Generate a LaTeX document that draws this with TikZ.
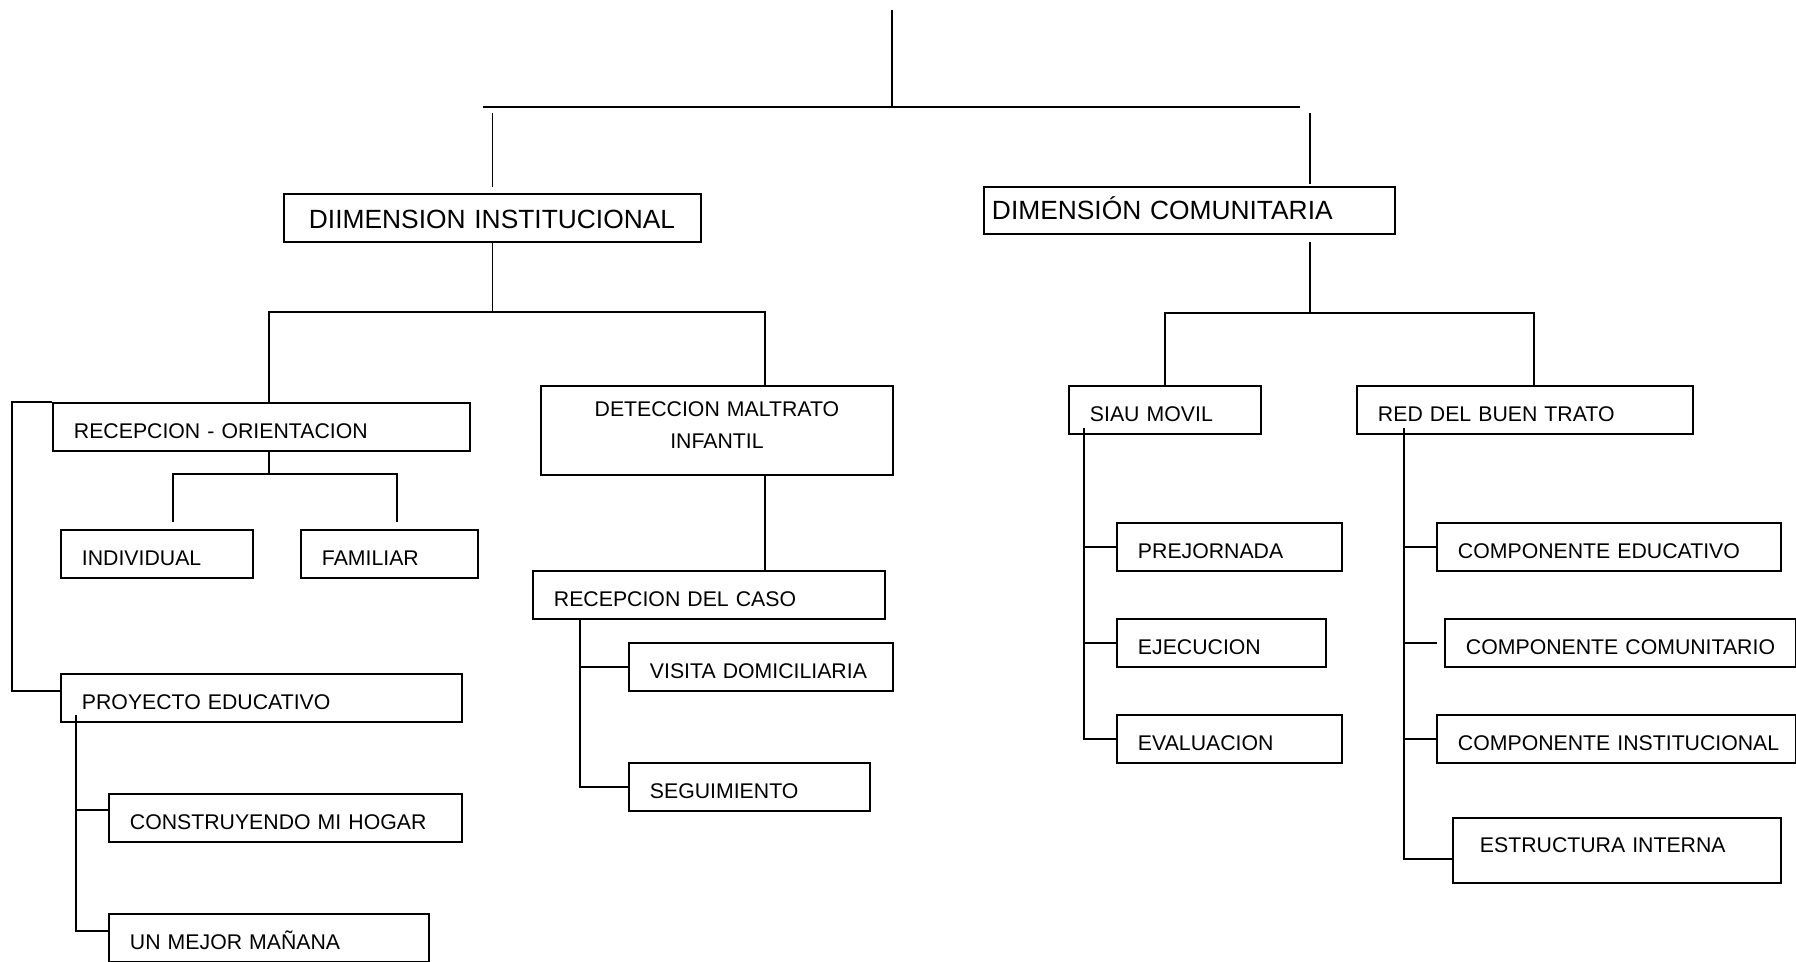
\documentclass[tikz,border=0pt]{standalone}
\usepackage{fontspec}
\setmainfont{Liberation Sans}
\usepackage{tikz}

\begin{document}
\begin{tikzpicture}[
        x=0.02cm, y=-0.02cm,
        boxbase/.style={rectangle, draw, line width=1.1pt, anchor=north west, inner xsep=0.42cm, inner ysep=0pt, minimum height=0.96cm, align=left, font=\fontsize{12.1}{18.1}\selectfont},
        box/.style={boxbase, text height=12.8pt, text depth=0pt},
        dimbox/.style={boxbase, text height=12pt, text depth=0pt, font=\fontsize{15}{18}\selectfont},
        link/.style={line width=1.1pt},
        thinlink/.style={line width=0.8pt},
        gap/.style={thinlink, shorten <=3.6pt, shorten >=3.6pt}
    ]
    \useasboundingbox (0,0) rectangle (1796,961);

    \node[dimbox, inner xsep=0.5cm, text width=7.34cm] (di) at (283,193) {DIIMENSION INSTITUCIONAL};
    \node[dimbox, inner xsep=0.16cm, text width=7.9cm, minimum height=0.94cm, text height=10.3pt] (dc) at (983,186) {DIMENSIÓN COMUNITARIA};

    \node[box, text width=7.5cm] (recor) at (52,402) {RECEPCION - ORIENTACION};
    \node[box, text width=3cm] (ind) at (60,529) {INDIVIDUAL};
    \node[box, text width=2.7cm] (fam) at (300,529) {FAMILIAR};
    \node[box, text width=7.18cm] (proy) at (60,673) {PROYECTO EDUCATIVO};
    \node[box, text width=6.22cm] (cons) at (108,793) {CONSTRUYENDO MI HOGAR};
    \node[box, text width=5.56cm] (mejor) at (108,913) {UN MEJOR MAÑANA};

    \node[boxbase, text width=6.2cm, minimum height=1.78cm, align=center] (det) at (540,385) {DETECCION MALTRATO\\INFANTIL\\[-11.7pt]\mbox{}};
    \node[box, text width=6.2cm] (caso) at (532,570) {RECEPCION DEL CASO};
    \node[box, text width=4.44cm] (visita) at (628,642) {VISITA DOMICILIARIA};
    \node[box, text width=3.98cm] (seg) at (628,762) {SEGUIMIENTO};

    \node[box, text width=3cm] (siau) at (1068,385) {SIAU MOVIL};
    \node[box, text width=5.88cm] (red) at (1356,385) {RED DEL BUEN TRATO};
    \node[box, text width=3.66cm] (prej) at (1116,522) {PREJORNADA};
    \node[box, text width=3.34cm] (ejec) at (1116,618) {EJECUCION};
    \node[box, text width=3.66cm] (eval) at (1116,714) {EVALUACION};
    \node[box, text width=6.04cm] (edu) at (1436,522) {COMPONENTE EDUCATIVO};
    \node[box, text width=6.18cm] (com) at (1444,618) {\mbox{COMPONENTE COMUNITARIO}};
    \node[box, text width=6.34cm] (inst) at (1436,714) {\mbox{COMPONENTE INSTITUCIONAL}};
    \node[box, inner xsep=0.54cm, text width=5.48cm, minimum height=1.3cm, text height=2.1pt] (est) at (1452,817) {ESTRUCTURA INTERNA};

    \coordinate (root) at (892,10);
    \coordinate (barL) at (483,107);
    \coordinate (barR) at (1300,107);
    \coordinate (busL) at (0,312);
    \coordinate (busR) at (0,313);
    \coordinate (subbus) at (0,474);
    \coordinate (outer) at (12,0);
    \coordinate (dcup) at ([xshift=-1.72cm]dc.north east);
    \coordinate (dcdown) at ([xshift=-1.72cm]dc.south east);
    \coordinate (recup) at ([xshift=0.15cm]recor.north);
    \coordinate (detup) at ([xshift=0.96cm]det.north);
    \coordinate (redup) at ([xshift=0.18cm]red.north);
    \coordinate (indup) at ([xshift=0.32cm]ind.north);
    \coordinate (famup) at ([xshift=0.15cm]fam.north);
    \coordinate (proybr) at ([xshift=0.32cm,yshift=0.16cm]proy.south west);
    \coordinate (casobr) at ([xshift=0.96cm]caso.south west);
    \coordinate (siaubr) at ([xshift=0.32cm,yshift=0.14cm]siau.south west);
    \coordinate (redbr) at ([xshift=0.96cm,yshift=0.14cm]red.south west);

    \draw[thinlink] (root) -- (root |- barL);
    \draw[line width=1.4pt] (barL) -- (barR);
    \draw[gap] (di.north |- barL) -- (di.north);
    \draw[gap, shorten >=1pt] (dcup |- barR) -- (dcup);

    \draw[thinlink] (di.south) -- (di.south |- busL);
    \draw[link] (recup) -- (recup |- busL) -| (detup);
    \draw[link] (recup |- recor.south) -- (recup |- subbus);
    \draw[link, shorten <=3.8pt, shorten >=3.8pt] (indup) -- (indup |- subbus) -- (famup |- subbus) -- (famup);
    \draw[link] (recor.north west) -- (recor.north west -| outer) |- ([yshift=0.14cm]proy.west);
    \draw[link] (proybr) |- ([yshift=0.16cm]cons.west);
    \draw[link] (proybr) |- ([yshift=0.14cm]mejor.west);

    \draw[link] (detup |- det.south) -- (detup |- caso.north);
    \draw[link] (casobr) |- (visita.west);
    \draw[link] (casobr) |- (seg.west);

    \draw[thinlink, shorten <=4pt] (dcdown) -- (dcdown |- busR);
    \draw[link] (siau.north) -- (siau.north |- busR) -| (redup);
    \draw[link] (siaubr) |- (prej.west);
    \draw[link] (siaubr) |- (ejec.west);
    \draw[link] (siaubr) |- (eval.west);
    \draw[link] (redbr) |- (edu.west);
    \draw[link, shorten >=4pt] (redbr) |- (com.west);
    \draw[link] (redbr) |- (inst.west);
    \draw[link] (redbr) |- ([yshift=-0.17cm]est.west);
\end{tikzpicture}
\end{document}
